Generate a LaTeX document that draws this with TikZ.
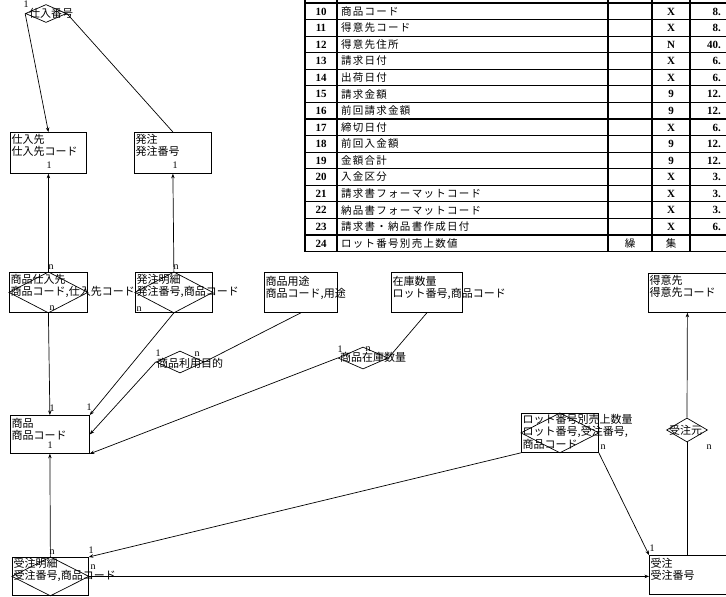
\documentclass[tikz,border=0pt]{standalone}
\usepackage{fontspec}
\setmainfont{Liberation Serif}
\newfontfamily\jp{Noto Sans CJK JP}
\newfontfamily\jpt[LetterSpace=12]{Noto Sans CJK JP}
\usetikzlibrary{shapes.geometric,arrows.meta}
\begin{document}
\begin{tikzpicture}[x=1pt,y=-1pt,
 bx/.style={draw, line width=0.8pt, inner sep=0pt, anchor=north west},
 tx/.style={font=\jp\fontsize{11}{12.5}\selectfont, inner sep=0pt, anchor=north west, align=left},
 dtx/.style={font=\jp\fontsize{11}{12}\selectfont, inner sep=0pt, anchor=west},
 cd/.style={font=\fontsize{10}{10}\selectfont, inner sep=0pt},
 dm/.style={diamond, draw, line width=0.7pt, inner sep=0pt},
 ln/.style={line width=0.7pt},
 ar/.style={ln, -{Stealth[length=4.5pt,width=3.5pt]}},
 tl/.style={line width=1.1pt},
 tnum/.style={font=\fontsize{11}{11}\selectfont\bfseries, inner sep=0pt},
 tjp/.style={font=\jpt\fontsize{10.5}{11}\selectfont, inner sep=0pt, anchor=west},
]
\fill[white] (0,0) rectangle (726,597);
\useasboundingbox (0,0) rectangle (726,597);

% ---------- table ----------
\foreach \i in {0,...,15} \draw[tl] (305,{3+16.57*\i}) -- (740,{3+16.57*\i});
\foreach \x in {305,337,608,652,690} \draw[tl] (\x,0) -- (\x,251.6);
\foreach \n/\nm/\t/\s [count=\k from 0] in {10/商品コード/X/8.,11/得意先コード/X/8.,12/得意先住所/N/40.,13/請求日付/X/6.,14/出荷日付/X/6.,15/請求金額/9/12.,16/前回請求金額/9/12.,17/締切日付/X/6.,18/前回入金額/9/12.,19/金額合計/9/12.,20/入金区分/X/3.,21/請求書フォーマットコード/X/3.,22/納品書フォーマットコード/X/3.,23/請求書・納品書作成日付/X/6.}{
 \node[tnum] (tn\k) at (321,{11.5+16.57*\k}) {\n};
 \node[tjp] (tm\k) at (341,{11.3+16.57*\k}) {\nm};
 \node[tnum] (tt\k) at (671,{11.5+16.57*\k}) {\t};
 \node[tnum, anchor=east] (ts\k) at (721,{11.5+16.57*\k}) {\s};
}
\node[tnum] (tn14) at (321,{11.5+16.57*14}) {24};
\node[tjp] (tm14) at (341,{11.3+16.57*14}) {ロット番号別売上数値};
\node[tjp, anchor=center] (tr14) at (630,{11.3+16.57*14}) {繰};
\node[tjp, anchor=center] (tt14) at (671,{11.3+16.57*14}) {集};

% ---------- entity boxes ----------
\node[bx, minimum width=76, minimum height=41] (shiire) at (10,132) {};
\node[bx, minimum width=77, minimum height=41] (hacchu) at (134,132) {};
\node[bx, minimum width=78, minimum height=40] (ss) at (9,272) {};
\node[bx, minimum width=77, minimum height=40] (hm) at (135,272) {};
\node[bx, minimum width=73, minimum height=40] (sy) at (264,272) {};
\node[bx, minimum width=71, minimum height=40] (zk) at (391,272) {};
\node[bx, minimum width=78, minimum height=39] (tk) at (648,273) {};
\node[bx, minimum width=79, minimum height=38] (sh) at (10,415) {};
\node[bx, minimum width=77, minimum height=39] (lot) at (521,413) {};
\node[bx, minimum width=76, minimum height=38] (jm) at (12,557) {};
\node[bx, minimum width=100, minimum height=39] (jc) at (649,555) {};

% inner diamonds
\draw[ln] (ss.north) -- (ss.east) -- (ss.south) -- (ss.west) -- cycle;
\draw[ln] (hm.north) -- (hm.east) -- (hm.south) -- (hm.west) -- cycle;
\draw[ln] (lot.north) -- (lot.east) -- (lot.south) -- (lot.west) -- cycle;
\draw[ln] (jm.north) -- (jm.east) -- (jm.south) -- (jm.west) -- cycle;

% box texts
\node[tx] (shiireT) at ([shift={(1.5,2)}]shiire.north west) {仕入先\\仕入先コード};
\node[tx] (hacchuT) at ([shift={(1.5,2)}]hacchu.north west) {発注\\発注番号};
\node[tx] (ssT) at ([shift={(1.5,2)}]ss.north west) {商品仕入先\\商品コード,仕入先コード};
\node[tx] (hmT) at ([shift={(1.5,2)}]hm.north west) {発注明細\\発注番号,商品コード};
\node[tx] (syT) at ([shift={(1.5,4)}]sy.north west) {商品用途\\商品コード,用途};
\node[tx] (zkT) at ([shift={(1.5,4)}]zk.north west) {在庫数量\\ロット番号,商品コード};
\node[tx] (tkT) at ([shift={(1.5,2)}]tk.north west) {得意先\\得意先コード};
\node[tx] (shT) at ([shift={(1.5,3)}]sh.north west) {商品\\商品コード};
\node[tx] (lotT) at ([shift={(1.5,1)}]lot.north west) {ロット番号別売上数量\\ロット番号,受注番号,\\商品コード};
\node[tx] (jmT) at ([shift={(1.5,1)}]jm.north west) {受注明細\\受注番号,商品コード};
\node[tx] (jcT) at ([shift={(1.5,3)}]jc.north west) {受注\\受注番号};
\node[cd] (shiire1) at (49,165) {1};
\node[cd] (hacchu1) at (175,165) {1};
\node[cd] (sh1) at (50,445) {1};

% ---------- relationship diamonds ----------
\node[dm, minimum width=41, minimum height=18] (dS) at (46,13.5) {};
\node[dtx] (dST) at (29,13) {仕入番号};
\node[dm, minimum width=48, minimum height=22] (dR) at (180,362) {};
\node[dtx] (dRT) at (157,363) {商品利用目的};
\node[dm, minimum width=50, minimum height=22] (dZ) at (363,358) {};
\node[dtx] (dZT) at (340,357) {商品在庫数量};
\node[dm, minimum width=41, minimum height=24] (dJ) at (687,430) {};
\node[dtx] (dJT) at (669,430) {受注元};

% ---------- connectors ----------
\draw[ar] (dS.west) -- (shiire.north);
\draw[ln] (dS.east) -- (hacchu.north);
\draw[ar] (ss.north) -- (shiire.south);
\draw[ar] (hm.north) -- (hacchu.south);
\draw[ar] (ss.south) -- (sh.north);
\draw[ar] (hm.south) -- (sh.north east);
\draw[ln] (sy.south) -- (dR.east);
\draw[ar] (dR.west) -- (sh.east);
\draw[ln] (zk.south) -- (dZ.east);
\draw[ar] (dZ.west) -- (sh.south east);
\draw[ar] (jm.north) -- (sh.south);
\draw[ar] (lot.south west) -- (jm.north east);
\draw[ar] (jm.east) -- (jm.east -| jc.west);
\draw[ar] (lot.south east) -- (jc.north west);
\draw[ar] (dJ.north) -- (tk.south);
\draw[ln] (dJ.south) -- (dJ.south |- jc.north);

% ---------- cardinalities ----------
\node[cd] (c1) at (26,4) {1};
\node[cd] (c2) at (51,267) {n};
\node[cd] (c3) at (176,267) {n};
\node[cd] (c4) at (52,308) {n};
\node[cd] (c5) at (139,309) {n};
\node[cd] (c6) at (52,408) {1};
\node[cd] (c7) at (89,407) {1};
\node[cd] (c8) at (158,353) {1};
\node[cd] (c9) at (197,354) {n};
\node[cd] (c10) at (340,349) {1};
\node[cd] (c11) at (368,349) {n};
\node[cd] (c12) at (91,550) {1};
\node[cd] (c13) at (52,552) {n};
\node[cd] (c14) at (93,567) {n};
\node[cd] (c15) at (603,447) {n};
\node[cd] (c16) at (652,548) {1};
\node[cd] (c17) at (709,447) {n};
\end{tikzpicture}
\end{document}
